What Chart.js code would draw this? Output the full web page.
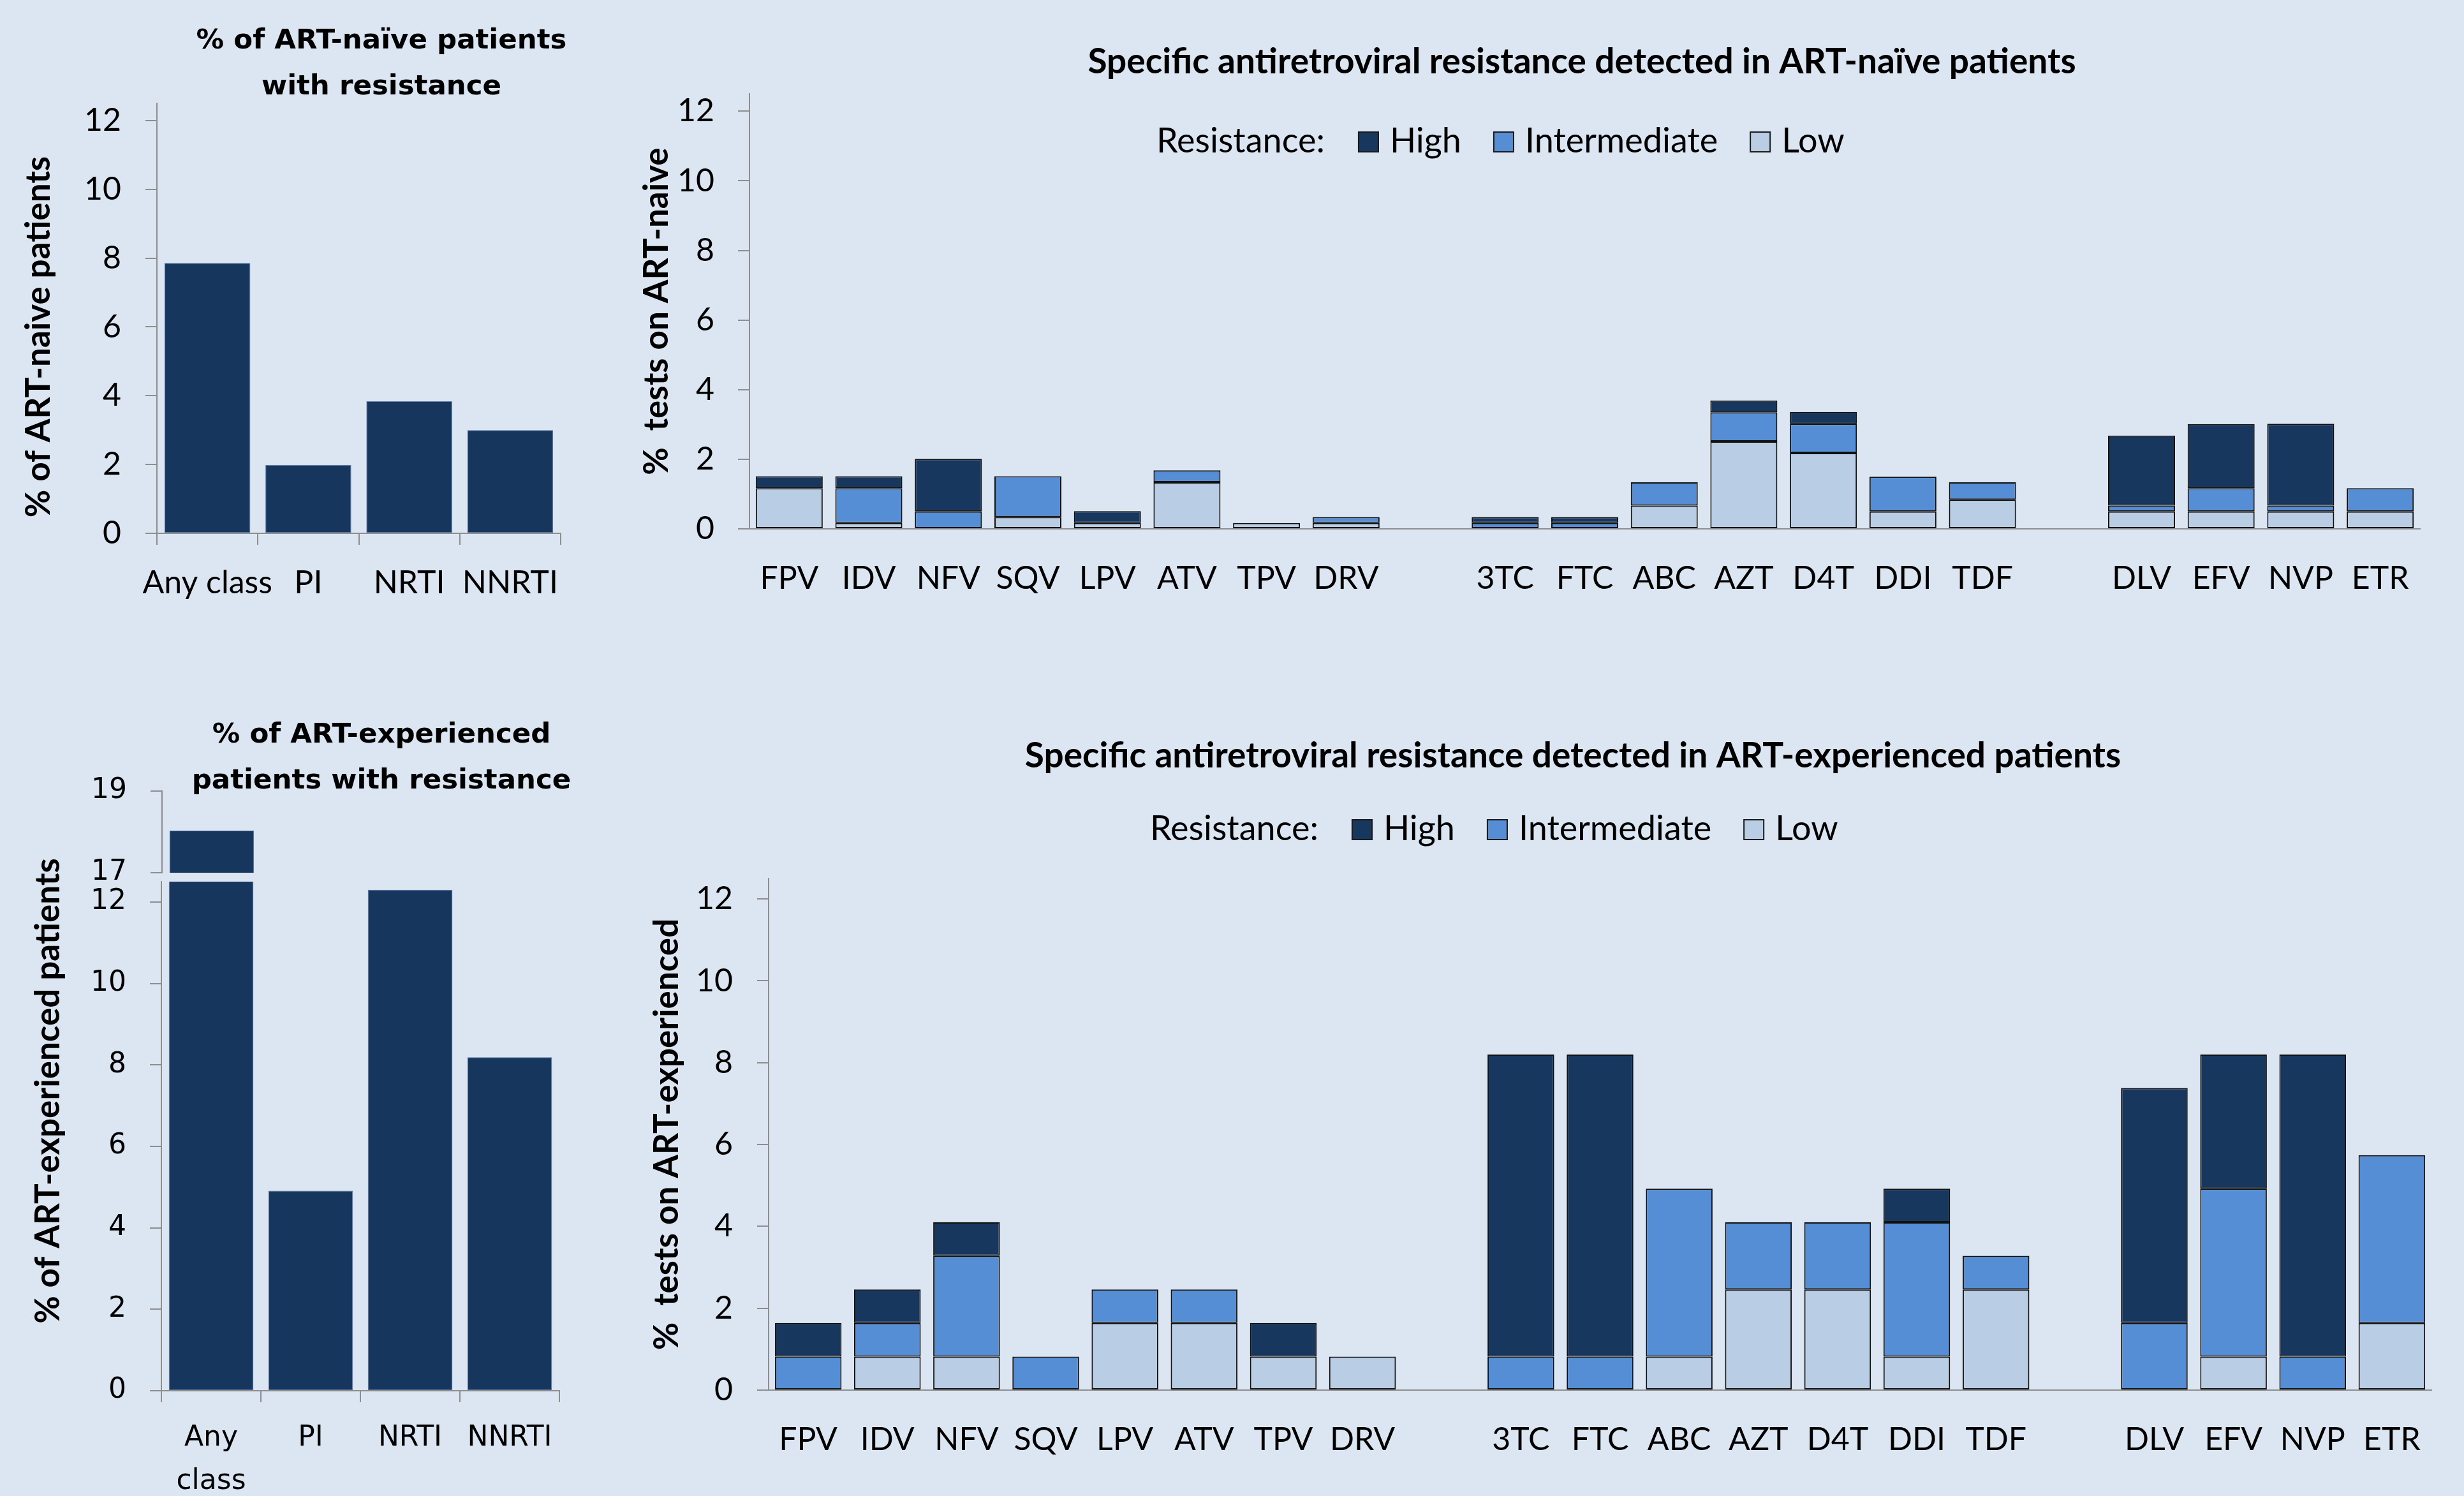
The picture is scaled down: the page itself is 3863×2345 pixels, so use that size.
<!DOCTYPE html>
<html>
<head>
<meta charset="utf-8">
<title>HIV drug resistance in ART-naïve and ART-experienced patients</title>
<script src="https://cdn.jsdelivr.net/npm/chart.js@4.4.1/dist/chart.umd.min.js"></script>
<style>
  html, body { margin: 0; padding: 0; background: #dce6f2; }
  #board { position: relative; width: 3863px; height: 2345px; overflow: hidden; background: #dce6f2; }
  #board canvas { position: absolute; }
</style>
</head>
<body>
<div id="board">
  <canvas id="naiveClass"    width="1196" height="1030" style="left:0px;top:0px"></canvas>
  <canvas id="naiveDrug"     width="2980" height="1030" style="left:990px;top:0px"></canvas>
  <canvas id="expClassUpper" width="1196" height="280"  style="left:0px;top:1100px"></canvas>
  <canvas id="expClass"      width="1196" height="1045" style="left:0px;top:1300px"></canvas>
  <canvas id="expDrug"       width="2932" height="1245" style="left:1000px;top:1100px"></canvas>
</div>
<script>
// ---- data -------------------------------------------------------------
const classCategories = ['Any class', 'PI', 'NRTI', 'NNRTI'];
const naiveClassPct = [7.86, 1.99, 3.84, 3.0];
const experiencedClassPct = [18.03, 4.91, 12.3, 8.19];

const piDrugs = ['FPV', 'IDV', 'NFV', 'SQV', 'LPV', 'ATV', 'TPV', 'DRV'];
const nrtiDrugs = ['3TC', 'FTC', 'ABC', 'AZT', 'D4T', 'DDI', 'TDF'];
const nnrtiDrugs = ['DLV', 'EFV', 'NVP', 'ETR'];

const resistanceLevels = ['High', 'Intermediate', 'Low'];

// values follow piDrugs, nrtiDrugs, nnrtiDrugs in order
const naiveLow          = [1.17, 0.17, 0, 0.34, 0.17, 1.34, 0.17, 0.17,  0, 0, 0.67, 2.51, 2.18, 0.5, 0.84,  0.5, 0.5, 0.5, 0.5];
const naiveIntermediate = [0, 1.0, 0.5, 1.17, 0, 0.34, 0, 0.17,  0.17, 0.17, 0.67, 0.84, 0.84, 1.0, 0.5,  0.17, 0.67, 0.17, 0.67];
const naiveHigh         = [0.34, 0.34, 1.51, 0, 0.34, 0, 0, 0,  0.17, 0.17, 0, 0.34, 0.34, 0, 0,  2.01, 1.84, 2.35, 0];

const expLow            = [0, 0.82, 0.82, 0, 1.64, 1.64, 0.82, 0.82,  0, 0, 0.82, 2.46, 2.46, 0.82, 2.46,  0, 0.82, 0, 1.64];
const expIntermediate   = [0.82, 0.82, 2.46, 0.82, 0.82, 0.82, 0, 0,  0.82, 0.82, 4.1, 1.64, 1.64, 3.28, 0.82,  1.64, 4.1, 0.82, 4.1];
const expHigh           = [0.82, 0.82, 0.82, 0, 0, 0, 0.82, 0,  7.38, 7.38, 0, 0, 0, 0.82, 0,  5.74, 3.28, 7.38, 0];

// ---- styling ------------------------------------------------------------
const AXIS = '#8e8e8e';
const LEVEL_COLORS = { High: '#17375e', Intermediate: '#558ed5', Low: '#b9cde5' };
const CLASS_BAR = '#17365d';
const SANS = 'Lato, "Liberation Sans", sans-serif';
const WIDE = '"DejaVu Sans", Verdana, sans-serif';

Chart.defaults.color = '#000';
Chart.defaults.animation = false;

// drug groups separated by one empty slot on the category axis
const drugGroups = [piDrugs, nrtiDrugs, nnrtiDrugs];
function withGaps(values) {
  const out = [];
  let k = 0;
  drugGroups.forEach((g, gi) => {
    if (gi > 0) out.push(null);
    g.forEach(() => out.push(values[k++]));
  });
  return out;
}
const drugLabels = withGaps([...piDrugs, ...nrtiDrugs, ...nnrtiDrugs]).map(v => v === null ? '' : v);

// "Resistance:  [] High  [] Intermediate  [] Low" key drawn across the plot
const resistanceKey = {
  id: 'resistanceKey',
  afterDraw(chart, args, o) {
    const ctx = chart.ctx;
    ctx.save();
    ctx.font = `${o.size}px ${SANS}`;
    ctx.textBaseline = 'alphabetic';
    ctx.textAlign = 'left';
    let x = chart.chartArea.left + o.offsetX;
    const y = o.baseline;
    ctx.fillStyle = '#000';
    ctx.fillText(o.caption, x, y);
    x += ctx.measureText(o.caption).width + o.captionGap;
    resistanceLevels.forEach(level => {
      const ds = chart.data.datasets.find(d => d.label === level);
      ctx.fillStyle = ds.backgroundColor;
      ctx.fillRect(x, y - o.box, o.box, o.box);
      ctx.lineWidth = 2;
      ctx.strokeStyle = '#1a1a1a';
      ctx.strokeRect(x + 1, y - o.box + 1, o.box - 2, o.box - 2);
      x += o.box + o.textGap;
      ctx.fillStyle = '#000';
      ctx.fillText(ds.label, x, y);
      x += ctx.measureText(ds.label).width + o.itemGap;
    });
    ctx.restore();
  }
};

// rotated value-axis caption (also spans both parts of the broken axis)
const sideCaption = {
  id: 'sideCaption',
  afterDraw(chart, args, o) {
    if (!o || !o.text) return;
    const ctx = chart.ctx;
    ctx.save();
    ctx.translate(o.x, o.y);
    ctx.rotate(-Math.PI / 2);
    ctx.font = o.font;
    ctx.fillStyle = '#000';
    ctx.textAlign = 'center';
    ctx.textBaseline = 'middle';
    ctx.fillText(o.text, 0, 0);
    ctx.restore();
  }
};

// empty right-hand box that keeps the heading centred on the whole panel
function gutter(width) {
  return {
    type: 'linear', position: 'right', display: true,
    grid: { display: false, drawTicks: false },
    border: { display: false },
    ticks: { display: false },
    afterFit: s => { s.width = width; }
  };
}

function yAxis(o) {
  const ticks = { includeBounds: false, padding: o.tickPad, font: o.tickFont, color: '#000' };
  if (o.count) ticks.count = o.count; else ticks.stepSize = 2;
  return {
    min: o.min, max: o.max,
    ticks,
    grid: { drawOnChartArea: false, drawTicks: true, tickLength: 18, color: AXIS, lineWidth: 2 },
    border: { color: AXIS, width: 2 },
    title: o.title ? {
      display: true, text: o.title, color: '#000',
      font: { family: SANS, weight: 'bold', size: 53, lineHeight: 1.2 },
      padding: { top: o.titlePad, bottom: 0 }
    } : { display: false },
    afterFit: s => {
      s.width = o.width;
      if (o.noOverhang) { s.paddingTop = 0; s.paddingBottom = 0; }
    }
  };
}

function classChart(id, values, o) {
  return new Chart(document.getElementById(id), {
    type: 'bar',
    data: {
      labels: classCategories,
      datasets: [{
        data: values,
        yAxisID: 'y',
        backgroundColor: CLASS_BAR,
        borderColor: '#5a78a6',
        borderWidth: 1,
        borderSkipped: false,
        categoryPercentage: 1,
        barPercentage: 0.85,
        clip: 0
      }]
    },
    options: {
      responsive: false,
      devicePixelRatio: 1,
      layout: { padding: o.layoutPad },
      plugins: {
        legend: { display: false },
        tooltip: { enabled: false },
        title: o.heading ? {
          display: true, text: o.heading, color: '#000',
          font: { family: WIDE, weight: 'bold', size: 43.5, lineHeight: '72px' },
          padding: o.headingPad
        } : { display: false },
        sideCaption: o.caption || {}
      },
      scales: {
        x: o.showX ? {
          offset: true,
          grid: { display: true, offset: true, drawOnChartArea: false, drawTicks: true, tickLength: 18, color: AXIS, lineWidth: 2 },
          border: { color: AXIS, width: 2 },
          ticks: {
            padding: o.xTickPad, font: o.xTickFont, color: '#000', autoSkip: false, maxRotation: 0,
            callback: o.wrapLabels
              ? function (v) { const s = this.getLabelForValue(v); return s.indexOf(' ') > 0 ? s.split(' ') : s; }
              : function (v) { return this.getLabelForValue(v); }
          },
          afterFit: s => { s.height = o.xHeight; }
        } : { display: false, offset: true },
        y: yAxis(o.y),
        gutter: gutter(o.gutter)
      }
    },
    plugins: [sideCaption]
  });
}

function drugChart(id, low, mid, high, o) {
  const series = { Low: low, Intermediate: mid, High: high };
  return new Chart(document.getElementById(id), {
    type: 'bar',
    data: {
      labels: drugLabels,
      datasets: ['Low', 'Intermediate', 'High'].map(level => ({
        label: level,
        data: withGaps(series[level]),
        yAxisID: 'y',
        backgroundColor: LEVEL_COLORS[level],
        borderColor: '#111',
        borderWidth: 2,
        borderSkipped: false,
        categoryPercentage: 1,
        barPercentage: 0.842,
        clip: 0
      }))
    },
    options: {
      responsive: false,
      devicePixelRatio: 1,
      layout: { padding: o.layoutPad },
      plugins: {
        legend: { display: false },
        tooltip: { enabled: false },
        title: {
          display: true, text: o.heading, color: '#000',
          font: { family: SANS, weight: 'bold', size: 55, lineHeight: 1.2 },
          padding: o.headingPad
        },
        resistanceKey: Object.assign({ caption: 'Resistance:', size: 54, box: 33, captionGap: 52, textGap: 17, itemGap: 50 }, o.key)
      },
      scales: {
        x: {
          stacked: true,
          offset: true,
          grid: { display: false, drawTicks: false },
          border: { color: AXIS, width: 2 },
          ticks: { padding: o.xTickPad, font: { family: SANS, size: 50 }, color: '#000', autoSkip: false, maxRotation: 0 },
          afterFit: s => { s.height = o.xHeight; }
        },
        y: Object.assign(yAxis(o.y), { stacked: true }),
        gutter: gutter(o.gutter)
      }
    },
    plugins: [resistanceKey]
  });
}

// ---- ART-naïve ----------------------------------------------------------
classChart('naiveClass', naiveClassPct, {
  heading: ['% of ART-naïve patients', 'with resistance'],
  headingPad: { top: 29, bottom: -11 },
  layoutPad: { left: 0, top: 0, right: 0, bottom: 0 },
  gutter: 317,
  showX: true,
  xTickPad: 30, xTickFont: { family: SANS, size: 50, lineHeight: 1.2 }, xHeight: 194,
  caption: { text: '% of ART-naive patients', x: 61, y: 528, font: `bold 53px ${SANS}` },
  y: { min: 0, max: 12.5, width: 246, tickPad: 38, tickFont: { family: SANS, size: 50 } }
});

drugChart('naiveDrug', naiveLow, naiveIntermediate, naiveHigh, {
  heading: 'Specific antiretroviral resistance detected in ART-naïve patients',
  headingPad: { top: 64, bottom: 17 },
  layoutPad: { left: 0, top: 0, right: 0, bottom: 0 },
  gutter: 176,
  xTickPad: 48, xHeight: 201,
  key: { offsetX: 638, baseline: 239 },
  y: { min: 0, max: 12.5, width: 185, tickPad: 37, tickFont: { family: SANS, size: 50 },
       title: '%  tests on ART-naive', titlePad: 8 }
});

// ---- ART-experienced ----------------------------------------------------
// broken value axis: upper segment 17–19, lower segment 0–12.5
classChart('expClassUpper', experiencedClassPct, {
  heading: ['% of ART-experienced', 'patients with resistance'],
  headingPad: { top: 17, bottom: -21 },
  layoutPad: { left: 0, top: 0, right: 0, bottom: 12 },
  gutter: 319,
  showX: false,
  y: { min: 17, max: 19, count: 2, width: 254, tickPad: 37, tickFont: { family: WIDE, size: 44 }, noOverhang: true }
});

classChart('expClass', experiencedClassPct, {
  layoutPad: { left: 0, top: 82, right: 0, bottom: 0 },
  gutter: 319,
  showX: true, wrapLabels: true,
  xTickPad: 23, xTickFont: { family: WIDE, size: 44, lineHeight: '68px' }, xHeight: 165,
  caption: { text: '% of ART-experienced patients', x: 76, y: 410, font: `bold 53px ${SANS}` },
  y: { min: 0, max: 12.5, width: 253, tickPad: 37, tickFont: { family: WIDE, size: 44 } }
});

drugChart('expDrug', expLow, expIntermediate, expHigh, {
  heading: 'Specific antiretroviral resistance detected in ART-experienced patients',
  headingPad: { top: 52, bottom: 159 },
  layoutPad: { left: 0, top: 0, right: 0, bottom: 0 },
  gutter: 120,
  xTickPad: 48, xHeight: 166,
  key: { offsetX: 598, baseline: 217 },
  y: { min: 0, max: 12.5, width: 205, tickPad: 38, tickFont: { family: SANS, size: 50 },
       title: '%  tests on ART-experienced', titlePad: 14 }
});
</script>
</body>
</html>
